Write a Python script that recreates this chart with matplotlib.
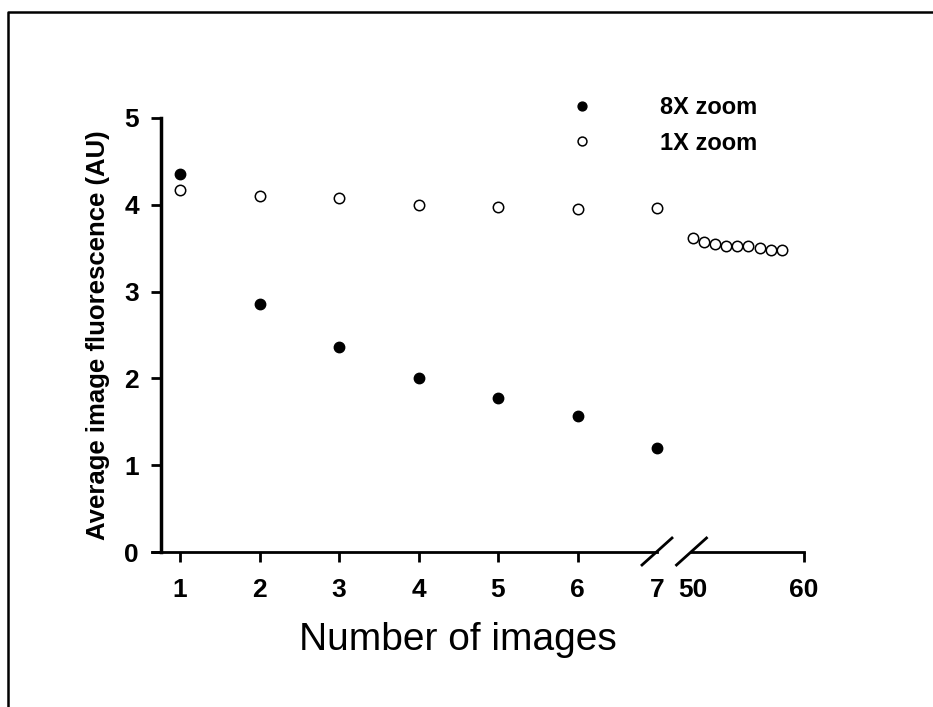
import matplotlib
matplotlib.use("Agg")
import matplotlib.pyplot as plt
from matplotlib.lines import Line2D

# data
n_left = [1, 2, 3, 4, 5, 6, 7]
zoom8 = [4.36, 2.86, 2.36, 2.01, 1.77, 1.57, 1.20]
zoom1_left = [4.17, 4.10, 4.08, 4.00, 3.97, 3.95, 3.96]
n_right = [50, 51, 52, 53, 54, 55, 56, 57, 58]
zoom1_right = [3.62, 3.57, 3.55, 3.53, 3.52, 3.52, 3.50, 3.48, 3.48]

left_ticks = [1, 2, 3, 4, 5, 6, 7]
right_ticks = [50, 60]
y_ticks = [0, 1, 2, 3, 4, 5]

W, H = 933, 707
plt.rcParams['font.family'] = ['Liberation Sans', 'DejaVu Sans']
fig = plt.figure(figsize=(W / 100, H / 100), dpi=100)

px = lambda x0, y0, x1, y1: [x0 / W, 1 - y1 / H, (x1 - x0) / W, (y1 - y0) / H]
axL = fig.add_axes(px(161, 118, 657, 552))
axR = fig.add_axes(px(691, 118, 804, 552), sharey=axL)
axR.patch.set_visible(False)

ms = 7.5
axL.plot(n_left, zoom8, 'o', color='k', ms=ms, clip_on=False, label='8X zoom')
axL.plot(n_left, zoom1_left, 'o', mfc='white', mec='k', mew=1.1, ms=ms, clip_on=False, label='1X zoom')
axR.plot(n_right, zoom1_right, 'o', mfc='white', mec='k', mew=1.1, ms=ms, clip_on=False)

axL.set_xlim(0.76, 7.0)
axR.set_xlim(49.82, 60)
axL.set_ylim(0, 5)
axL.set_xticks(left_ticks)
axR.set_xticks(right_ticks)
axL.set_yticks(y_ticks)

for ax in (axL, axR):
    for s in ('top', 'right'):
        ax.spines[s].set_visible(False)
    ax.spines['bottom'].set_linewidth(2)
    ax.tick_params(axis='both', width=2, length=7, direction='out', labelsize=19, pad=12)
    ax.tick_params(axis='y', pad=9)
    for lab in ax.get_xticklabels() + ax.get_yticklabels():
        lab.set_fontweight('bold')
axR.spines['left'].set_visible(False)
axR.tick_params(axis='y', left=False, labelleft=False)
axL.spines['left'].set_linewidth(2.5)
axL.spines['bottom'].set_bounds(0.76 - 9 / 79.4, 7.0)
axL.xaxis.get_major_ticks()[-1].tick1line.set_visible(False)
axR.xaxis.get_major_ticks()[0].tick1line.set_visible(False)

# break marks
for x in (657, 691.5):
    fig.add_artist(Line2D([(x - 15) / W, (x + 15) / W], [1 - 565 / H, 1 - 538 / H], color='k', lw=2))

axL.set_ylabel('Average image fluorescence (AU)', fontsize=18.5, fontweight='bold', labelpad=10)
fig.text(458 / W, 1 - 640 / H, 'Number of images', fontsize=28, ha='center', va='center')

handles, labels = axL.get_legend_handles_labels()
fig.legend(handles, labels, loc='upper left', bbox_to_anchor=(537 / W, 1 - 75 / H),
           frameon=False, prop={'weight': 'bold', 'size': 17}, handletextpad=2.3,
           labelspacing=0.52, markerscale=0.85)

# outer frame
fig.add_artist(Line2D([8 / W, 8 / W, 1], [0, 1 - 12 / H, 1 - 12 / H], color='k', lw=1.8))

fig.savefig('out.png', dpi=100)
